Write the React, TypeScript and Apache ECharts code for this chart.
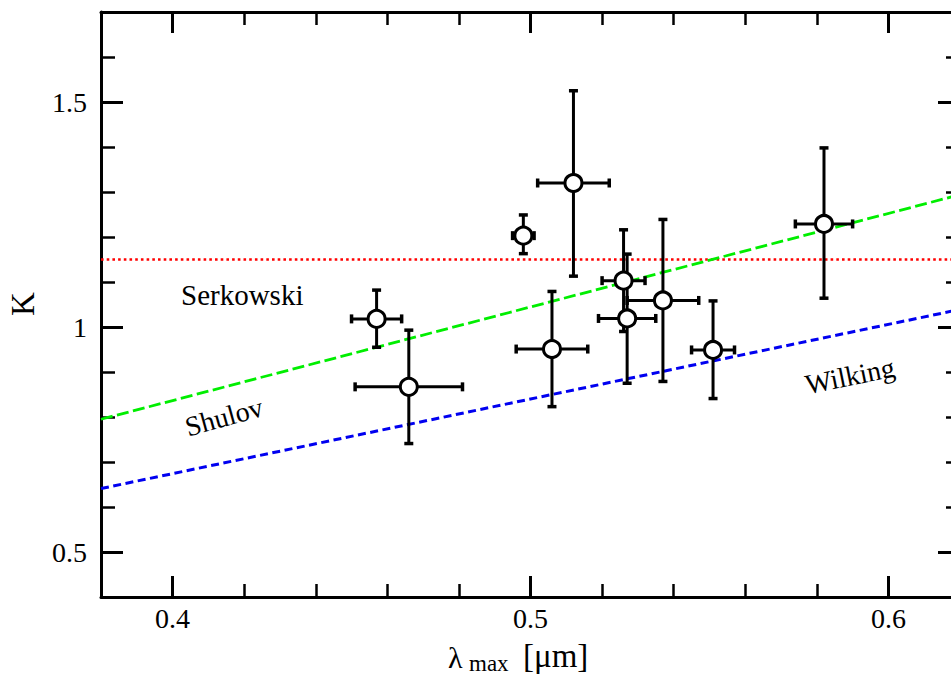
import React, { useEffect, useRef } from "react";
import * as echarts from "echarts";

// ---- data ----
const lambdaMax = [0.457, 0.466, 0.498, 0.512, 0.506, 0.526, 0.527, 0.537, 0.551, 0.582];
const kValues = [1.018, 0.867, 1.203, 1.32, 0.951, 1.103, 1.019, 1.059, 0.949, 1.229];
const lambdaErr = [0.007, 0.015, 0.003, 0.01, 0.01, 0.006, 0.008, 0.01, 0.006, 0.008];
const kErrLow = [0.063, 0.126, 0.04, 0.207, 0.128, 0.113, 0.144, 0.18, 0.108, 0.165];
const kErrHigh = [0.064, 0.126, 0.046, 0.205, 0.128, 0.113, 0.143, 0.18, 0.109, 0.169];

const serkowskiK = 1.15;
const shulovLine = [
  [0.38, 0.795],
  [0.62, 1.294],
];
const wilkingLine = [
  [0.38, 0.641],
  [0.62, 1.039],
];

const xMin = 0.38;
const xMax = 0.62;
const yMin = 0.4;
const yMax = 1.7;
const xMajorTicks = [0.4, 0.5, 0.6];
const yMajorTicks = [0.5, 1.0, 1.5];
const xMinorStep = 0.02;
const yMinorStep = 0.1;

const SERIF = "Liberation Serif, Times New Roman, DejaVu Serif, serif";
const fmt = (v: number) => `${parseFloat(Number(v).toFixed(2))}`;

function xAxisPair(position: "bottom" | "top", labels: boolean) {
  return [
    {
      type: "value",
      position,
      min: xMin,
      max: xMax,
      axisLine: { show: true, onZero: false, lineStyle: { color: "#000", width: 3 } },
      axisTick: {
        show: true,
        inside: true,
        length: 21,
        customValues: xMajorTicks,
        lineStyle: { color: "#000", width: 3 },
      },
      axisLabel: {
        show: labels,
        customValues: xMajorTicks,
        formatter: fmt,
        color: "#000",
        fontSize: 28,
        fontFamily: SERIF,
        margin: 7,
      },
      splitLine: { show: false },
    },
    {
      type: "value",
      position,
      min: xMin,
      max: xMax,
      interval: xMinorStep,
      axisLine: { show: false, onZero: false },
      axisTick: { show: true, inside: true, length: 13, lineStyle: { color: "#000", width: 2.5 } },
      axisLabel: { show: false },
      splitLine: { show: false },
    },
  ];
}

function yAxisPair(position: "left" | "right", labels: boolean) {
  return [
    {
      type: "value",
      position,
      min: yMin,
      max: yMax,
      axisLine: { show: true, onZero: false, lineStyle: { color: "#000", width: 3 } },
      axisTick: {
        show: true,
        inside: true,
        length: 22,
        customValues: yMajorTicks,
        lineStyle: { color: "#000", width: 3 },
      },
      axisLabel: {
        show: labels,
        customValues: yMajorTicks,
        formatter: fmt,
        color: "#000",
        fontSize: 28,
        fontFamily: SERIF,
        margin: 14,
      },
      splitLine: { show: false },
    },
    {
      type: "value",
      position,
      min: yMin,
      max: yMax,
      interval: yMinorStep,
      axisLine: { show: false, onZero: false },
      axisTick: { show: true, inside: true, length: 14, lineStyle: { color: "#000", width: 2.5 } },
      axisLabel: { show: false },
      splitLine: { show: false },
    },
  ];
}

function label(text: string, x: number, y: number, size: number, align: string, rotDeg = 0) {
  return {
    type: "text",
    x,
    y,
    rotation: (rotDeg * Math.PI) / 180,
    style: {
      text,
      font: `${size}px ${SERIF}`,
      fill: "#000",
      align,
      verticalAlign: "middle",
    },
  };
}

export default function App() {
  const ref = useRef<HTMLDivElement>(null);

  useEffect(() => {
    if (!ref.current) return;
    const chart = echarts.init(ref.current, undefined, { renderer: "svg" });

    const points = lambdaMax.map((x, i) => [x, kValues[i], lambdaErr[i], kErrLow[i], kErrHigh[i]]);

    const option: any = {
      animation: false,
      backgroundColor: "#fff",
      textStyle: { fontFamily: SERIF },
      grid: { left: 101, right: 15, top: 12, bottom: 78, containLabel: false, outerBoundsMode: "none" },
      xAxis: [...xAxisPair("bottom", true), ...xAxisPair("top", false)],
      yAxis: [...yAxisPair("left", true), ...yAxisPair("right", false)],
      series: [
        {
          type: "line",
          data: [
            [xMin, serkowskiK],
            [xMax, serkowskiK],
          ],
          symbol: "none",
          lineStyle: { color: "#ff0000", width: 2.6, type: [2.6, 3.1] },
          z: 2,
        },
        {
          type: "line",
          data: shulovLine,
          symbol: "none",
          lineStyle: { color: "#00ee00", width: 2.8, type: [12, 4.5] },
          z: 2,
        },
        {
          type: "line",
          data: wilkingLine,
          symbol: "none",
          lineStyle: { color: "#0000f0", width: 3, type: [8, 4.5] },
          z: 2,
        },
        {
          type: "custom",
          data: points,
          encode: { x: 0, y: 1 },
          z: 3,
          renderItem: (params: any, api: any) => {
            const x = api.value(0);
            const y = api.value(1);
            const xe = api.value(2);
            const ylo = api.value(3);
            const yhi = api.value(4);
            const l = api.coord([x - xe, y]);
            const r = api.coord([x + xe, y]);
            const t = api.coord([x, y + yhi]);
            const b = api.coord([x, y - ylo]);
            const cap = 4.5;
            const st = { stroke: "#000", lineWidth: 3 };
            const capSt = { stroke: "#000", lineWidth: 3.5 };
            return {
              type: "group",
              children: [
                { type: "line", shape: { x1: l[0], y1: l[1], x2: r[0], y2: r[1] }, style: st },
                { type: "line", shape: { x1: t[0], y1: t[1], x2: b[0], y2: b[1] }, style: st },
                { type: "line", shape: { x1: l[0], y1: l[1] - cap, x2: l[0], y2: l[1] + cap }, style: capSt },
                { type: "line", shape: { x1: r[0], y1: r[1] - cap, x2: r[0], y2: r[1] + cap }, style: capSt },
                { type: "line", shape: { x1: t[0] - cap, y1: t[1], x2: t[0] + cap, y2: t[1] }, style: capSt },
                { type: "line", shape: { x1: b[0] - cap, y1: b[1], x2: b[0] + cap, y2: b[1] }, style: capSt },
              ],
            };
          },
        },
        {
          type: "scatter",
          data: lambdaMax.map((x, i) => [x, kValues[i]]),
          symbol: "circle",
          symbolSize: 17,
          itemStyle: { color: "#fff", borderColor: "#000", borderWidth: 3, opacity: 1 },
          z: 4,
        },
      ],
      graphic: [
        label("K", 23, 304, 33, "center", 90),
        label("λ", 448, 657, 30, "left"),
        label("max", 469, 663, 23, "left"),
        label("[μm]", 523, 656, 33, "left"),
        label("Serkowski", 181, 295, 29, "left"),
        label("Shulov", 224, 417, 28, "center", 15.5),
        label("Wilking", 850, 376, 28, "center", 11.5),
      ],
    };

    chart.setOption(option);
    return () => chart.dispose();
  }, []);

  return (
    <div
      style={{
        position: "absolute",
        left: 0,
        top: 0,
        width: 951,
        height: 675,
        overflow: "hidden",
        background: "#fff",
      }}
    >
      <div ref={ref} style={{ width: 975, height: 675 }} />
    </div>
  );
}
